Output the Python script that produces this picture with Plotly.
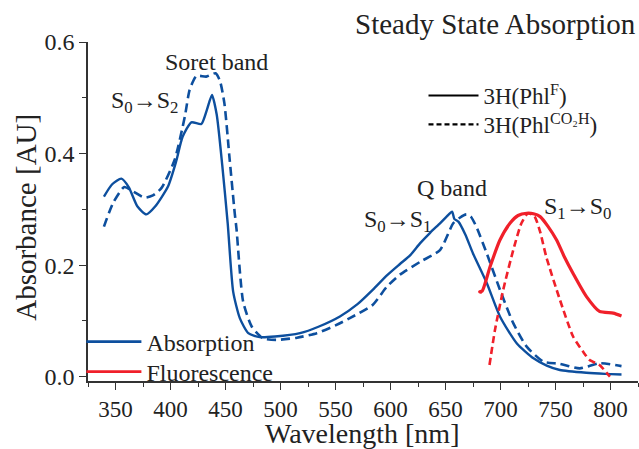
import plotly.graph_objects as go

# ---- data ----
abs_F_nm = [339.5, 347, 355.3, 362, 370, 378, 386, 397.7, 405, 411, 419, 428, 433, 437.7, 442, 447, 452, 457, 463, 470.7, 481, 495, 517.7, 535, 554, 570, 584, 597, 608.6, 618, 626.8, 636, 645, 651, 656, 658, 661.7, 668, 675, 687.5, 699.5, 714.7, 730, 742, 754, 778, 795, 810]
abs_F_val = [0.323, 0.345, 0.355, 0.340, 0.305, 0.291, 0.305, 0.341, 0.385, 0.430, 0.456, 0.453, 0.478, 0.505, 0.470, 0.380, 0.275, 0.152, 0.105, 0.078, 0.071, 0.072, 0.078, 0.090, 0.108, 0.130, 0.156, 0.182, 0.202, 0.218, 0.239, 0.258, 0.275, 0.287, 0.296, 0.283, 0.278, 0.255, 0.221, 0.168, 0.108, 0.060, 0.033, 0.020, 0.012, 0.007, 0.005, 0.004]

abs_C_nm = [339.5, 347.7, 358, 366, 376.5, 384, 391.7, 403.8, 413, 417.4, 423.5, 432.5, 441, 445, 449, 453.8, 458.4, 460, 466, 473.8, 484, 496.5, 515, 533, 550, 563, 584, 596.5, 608.6, 627, 645, 657, 663, 669, 673, 678, 687.5, 699.5, 711.6, 723.8, 739, 754, 772, 790, 810]
abs_C_val = [0.269, 0.311, 0.340, 0.332, 0.321, 0.325, 0.338, 0.389, 0.466, 0.514, 0.539, 0.538, 0.544, 0.530, 0.490, 0.389, 0.293, 0.265, 0.135, 0.090, 0.069, 0.066, 0.070, 0.078, 0.092, 0.105, 0.129, 0.161, 0.183, 0.206, 0.227, 0.275, 0.285, 0.291, 0.287, 0.269, 0.221, 0.156, 0.096, 0.054, 0.027, 0.023, 0.015, 0.024, 0.019]

fl_F_nm = [683, 681, 683.5, 690.5, 699.5, 708.6, 716, 723.8, 730, 736, 743, 751, 758, 766, 778, 790, 802.5, 810]
fl_F_val = [0.151, 0.152, 0.154, 0.197, 0.245, 0.275, 0.289, 0.293, 0.292, 0.287, 0.270, 0.245, 0.215, 0.185, 0.144, 0.117, 0.114, 0.109]

fl_C_nm = [690, 695, 702.5, 711.6, 719, 725, 731, 736, 741.6, 754, 766, 775, 781, 790, 799.5]
fl_C_val = [0.021, 0.084, 0.156, 0.227, 0.275, 0.293, 0.287, 0.260, 0.215, 0.138, 0.072, 0.045, 0.030, 0.021, 0.000]

x_ticks = [350, 400, 450, 500, 550, 600, 650, 700, 750, 800]
y_ticks = [0.0, 0.2, 0.4, 0.6]

BLUE = "#0d4f9e"
RED = "#f0202a"
FONT = "Liberation Serif"
TXT = "#222222"
AX = "#333333"

fig = go.Figure()

def add(xs, ys, color, dash, width):
    fig.add_trace(go.Scatter(x=xs, y=ys, mode="lines", showlegend=False,
                             line=dict(color=color, width=width, dash=dash,
                                       shape="spline", smoothing=0.6)))

add(abs_F_nm, abs_F_val, BLUE, "solid", 2.4)
add(abs_C_nm, abs_C_val, BLUE, "9px,5px", 2.6)
add(fl_F_nm, fl_F_val, RED, "solid", 3.2)
add(fl_C_nm, fl_C_val, RED, "7px,4px", 2.6)

# legend entries
fig.add_trace(go.Scatter(x=[None], y=[None], mode="lines", name="Absorption",
                         line=dict(color=BLUE, width=2.6), legend="legend"))
fig.add_trace(go.Scatter(x=[None], y=[None], mode="lines", name="Fluorescence",
                         line=dict(color=RED, width=2.6), legend="legend3"))
fig.add_trace(go.Scatter(x=[None], y=[None], mode="lines", name="3H(Phl<sup>F</sup>)",
                         line=dict(color="black", width=2.2), legend="legend2"))
fig.add_trace(go.Scatter(x=[None], y=[None], mode="lines", name="3H(Phl<sup>CO₂H</sup>)",
                         line=dict(color="black", width=2.2, dash="5px,3px"), legend="legend4"))

xr = [325, 825]
yr = [-0.0077, 0.6]

def leg(x, y, size, w):
    return dict(x=x, y=y, xanchor="left", yanchor="middle", bgcolor="rgba(0,0,0,0)",
                font=dict(size=size, family=FONT, color=TXT), itemwidth=w, tracegroupgap=0)

fig.update_layout(
    width=639, height=449,
    margin=dict(l=88, r=1, t=42, b=68),
    paper_bgcolor="white", plot_bgcolor="white",
    font=dict(family=FONT, color=TXT, size=24),
    xaxis=dict(range=xr, tickvals=x_ticks, ticks="outside", ticklen=7, tickwidth=1.3,
               tickcolor=AX, showline=True, linecolor=AX, linewidth=1.5, showgrid=False,
               zeroline=False, tickfont=dict(size=23, family=FONT, color=TXT),
               minor=dict(dtick=25, tick0=325, ticks="outside", ticklen=4, tickcolor=AX, showgrid=False)),
    yaxis=dict(range=yr, tickvals=y_ticks, tickformat=".1f", ticks="outside", ticklen=7, tickwidth=1.3,
               tickcolor=AX, showline=True, linecolor=AX, linewidth=1.5, showgrid=False,
               zeroline=False, tickfont=dict(size=24, family=FONT, color=TXT),
               minor=dict(dtick=0.1, tick0=0, ticks="outside", ticklen=4, tickcolor=AX, showgrid=False)),
    xaxis2=dict(range=xr, overlaying="x", side="top", tickvals=x_ticks, ticks="inside", ticklen=7,
                tickwidth=1.3, tickcolor=AX, showline=True, linecolor=AX, linewidth=1.5,
                showticklabels=False, showgrid=False, zeroline=False,
                minor=dict(dtick=25, tick0=325, ticks="inside", ticklen=4, tickcolor=AX, showgrid=False)),
    yaxis2=dict(range=yr, overlaying="y", side="right", tickvals=y_ticks, ticks="inside", ticklen=7,
                tickwidth=1.3, tickcolor=AX, showline=True, linecolor=AX, linewidth=1.5,
                showticklabels=False, showgrid=False, zeroline=False,
                minor=dict(dtick=0.1, tick0=0, ticks="inside", ticklen=4, tickcolor=AX, showgrid=False)),
    legend=leg(-0.012, 0.115, 24, 55),
    legend3=leg(-0.012, 0.0265, 24, 55),
    legend2=leg(0.61, 0.842, 23, 50),
    legend4=leg(0.61, 0.757, 23, 50),
    annotations=[
        dict(text="Steady State Absorption", xref="paper", yref="paper", x=1.0, y=1.0,
             xanchor="right", yanchor="bottom", yshift=0, showarrow=False,
             font=dict(size=29, family=FONT, color=TXT)),
        dict(text="Wavelength [nm]", xref="paper", yref="paper", x=0.498, y=-0.155,
             xanchor="center", yanchor="middle", showarrow=False,
             font=dict(size=28, family=FONT, color=TXT)),
        dict(text="Absorbance [AU]", xref="paper", yref="paper", x=-0.113, y=0.484,
             xanchor="center", yanchor="middle", textangle=-90, showarrow=False,
             font=dict(size=29, family=FONT, color=TXT)),
        dict(text="Soret band", xref="x", yref="y", x=442, y=0.565, showarrow=False,
             font=dict(size=24, family=FONT, color=TXT)),
        dict(text="S<sub>0</sub>→S<sub>2</sub>", xref="x", yref="y", x=377, y=0.492, showarrow=False,
             font=dict(size=24, family=FONT, color=TXT)),
        dict(text="Q band", xref="x", yref="y", x=656, y=0.338, showarrow=False,
             font=dict(size=24, family=FONT, color=TXT)),
        dict(text="S<sub>0</sub>→S<sub>1</sub>", xref="x", yref="y", x=607, y=0.28, showarrow=False,
             font=dict(size=24, family=FONT, color=TXT)),
        dict(text="S<sub>1</sub>→S<sub>0</sub>", xref="x", yref="y", x=770, y=0.302, showarrow=False,
             font=dict(size=24, family=FONT, color=TXT)),
    ],
)

fig.write_html("out.html")
